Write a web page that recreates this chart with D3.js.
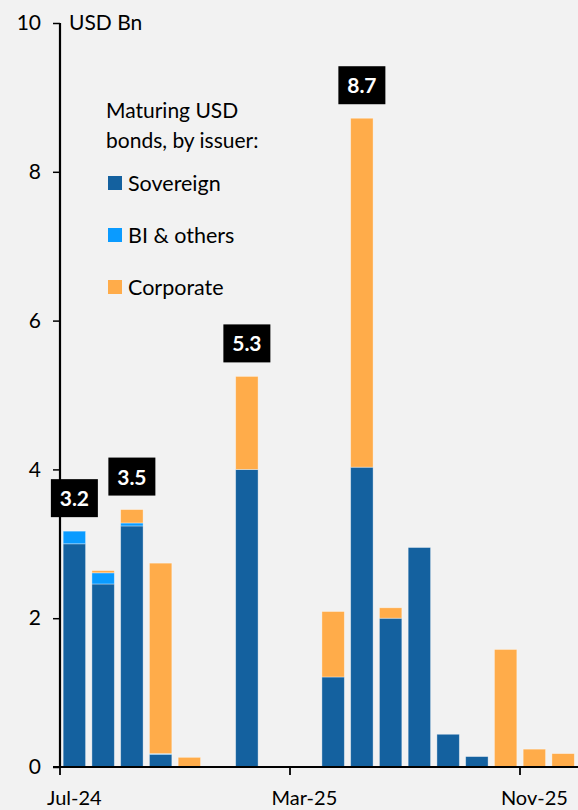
<!DOCTYPE html>
<html>
<head>
<meta charset="utf-8">
<script src="https://cdn.jsdelivr.net/npm/d3@7"></script>
<style>
  html, body { margin: 0; padding: 0; background: #f2f2f2; }
  svg { display: block; font-family: Lato, "Open Sans", sans-serif; }
</style>
</head>
<body>
<svg id="chart" width="578" height="810"></svg>
<script>
// months, Jul-24 .. Dec-25
var months = ["Jul-24", "Aug-24", "Sep-24", "Oct-24", "Nov-24", "Dec-24",
              "Jan-25", "Feb-25", "Mar-25", "Apr-25", "May-25", "Jun-25",
              "Jul-25", "Aug-25", "Sep-25", "Oct-25", "Nov-25", "Dec-25"];
var sovereign = [3.00, 2.46, 3.24, 0.17, 0, 0, 4.00, 0, 0, 1.21, 4.03, 2.00, 2.95, 0.44, 0.14, 0, 0, 0];
var biOthers  = [0.17, 0.15, 0.04, 0.01, 0, 0, 0, 0, 0, 0, 0, 0, 0, 0, 0, 0, 0, 0];
var corporate = [0, 0.03, 0.18, 2.56, 0.13, 0, 1.25, 0, 0, 0.88, 4.69, 0.14, 0, 0, 0, 1.58, 0.24, 0.18];
var xTickLabels = ["Jul-24", "Mar-25", "Nov-25"];
var yTicks = [0, 2, 4, 6, 8, 10];
var callouts = [
    { month: "Jul-24", text: "3.2" },
    { month: "Sep-24", text: "3.5" },
    { month: "Jan-25", text: "5.3" },
    { month: "May-25", text: "8.7" }
];
var seriesNames = ["Sovereign", "BI & others", "Corporate"];
var seriesColors = ["#14619f", "#0a9bff", "#ffac4a"];

var svg = d3.select("#chart");
var x0 = 60, x1 = 60 + 18 * 28.75, yBase = 767, yTop = 23;

var x = d3.scaleBand().domain(months).range([x0, x1]).paddingInner(0.22).paddingOuter(0.11);
var y = d3.scaleLinear().domain([0, 10]).range([yBase, yTop]);

// stacked data
var rows = months.map(function (m, i) {
    return { month: m, "Sovereign": sovereign[i], "BI & others": biOthers[i], "Corporate": corporate[i] };
});
var stack = d3.stack().keys(seriesNames)(rows);

svg.append("g").selectAll("g")
    .data(stack)
    .join("g")
    .attr("fill", function (d, i) { return seriesColors[i]; })
    .selectAll("rect")
    .data(function (d) { return d.filter(function (p) { return p[1] - p[0] > 0; }); })
    .join("rect")
    .attr("x", function (d) { return x(d.data.month); })
    .attr("width", x.bandwidth())
    .attr("y", function (d) { return y(d[1]); })
    .attr("height", function (d) { return y(d[0]) - y(d[1]); })
    .attr("stroke", "rgba(255,255,255,0.45)")
    .attr("stroke-width", 0.8);

// y axis
var yAxis = svg.append("g")
    .attr("transform", "translate(" + x0 + ",0)")
    .call(d3.axisLeft(y).tickValues(yTicks).tickSize(7).tickPadding(12));
yAxis.select(".domain").attr("stroke", "#000").attr("stroke-width", 2.2).attr("d", "M0," + yBase + "V" + yTop);
yAxis.selectAll(".tick line").attr("stroke", "#000").attr("stroke-width", 1.5);
yAxis.selectAll(".tick text").attr("font-size", 21).attr("fill", "#000").attr("font-family", "Lato, sans-serif");

// x axis: ticks at band starts, labels at band centres
var xg = svg.append("g");
xg.append("line")
    .attr("x1", x0 - 7).attr("x2", 578)
    .attr("y1", yBase).attr("y2", yBase)
    .attr("stroke", "#000").attr("stroke-width", 2);
xg.selectAll("line.tk")
    .data(xTickLabels)
    .join("line")
    .attr("class", "tk")
    .attr("x1", function (d) { return x(d) - x.step() * 0.11; })
    .attr("x2", function (d) { return x(d) - x.step() * 0.11; })
    .attr("y1", yBase).attr("y2", yBase + 8)
    .attr("stroke", "#000").attr("stroke-width", 1.8);
xg.selectAll("text")
    .data(xTickLabels)
    .join("text")
    .attr("x", function (d) { return x(d) + x.bandwidth() / 2; })
    .attr("y", 805)
    .attr("text-anchor", "middle")
    .attr("font-size", 20)
    .text(function (d) { return d; });

// unit label
svg.append("text").attr("x", 69).attr("y", 30).attr("font-size", 21).text("USD Bn");

// legend
var lg = svg.append("g");
lg.append("text").attr("x", 106).attr("y", 118).attr("font-size", 21).text("Maturing USD");
lg.append("text").attr("x", 106).attr("y", 148).attr("font-size", 21).text("bonds, by issuer:");
seriesNames.forEach(function (name, i) {
    var yy = 176 + i * 52;
    lg.append("rect").attr("x", 108).attr("y", yy).attr("width", 14).attr("height", 14).attr("fill", seriesColors[i]);
    lg.append("text").attr("x", 128).attr("y", yy + 15).attr("font-size", 21.5).text(name);
});

// callout boxes with totals
var totals = months.map(function (m, i) { return sovereign[i] + biOthers[i] + corporate[i]; });
var cg = svg.append("g").selectAll("g")
    .data(callouts)
    .join("g")
    .attr("transform", function (d) {
        var i = months.indexOf(d.month);
        var cx = x(d.month) + x.bandwidth() / 2;
        return "translate(" + cx + "," + (y(totals[i]) - 14) + ")";
    });
cg.append("rect").attr("x", -23.5).attr("y", -38).attr("width", 47).attr("height", 38).attr("fill", "#000");
cg.append("text")
    .attr("x", 0).attr("y", -11)
    .attr("text-anchor", "middle")
    .attr("fill", "#fff")
    .attr("font-weight", "bold")
    .attr("font-size", 21)
    .text(function (d) { return d.text; });
</script>
</body>
</html>
